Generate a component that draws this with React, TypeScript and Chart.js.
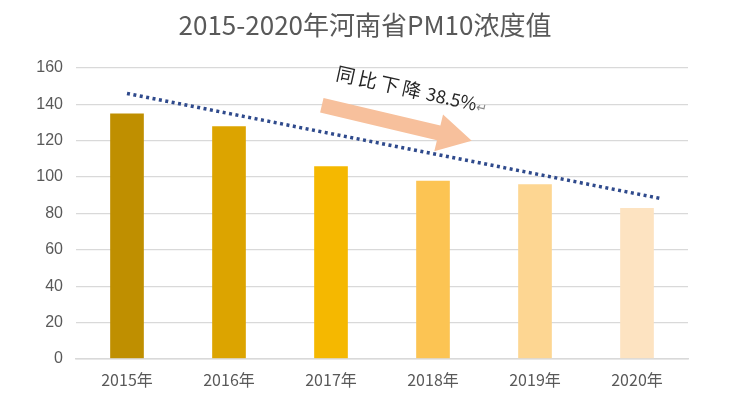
import React, { useEffect, useRef } from 'react';
import { Chart, registerables } from 'chart.js';

Chart.register(...registerables);

const titleText = '2015-2020年河南省PM10浓度值';
const categories = ['2015年', '2016年', '2017年', '2018年', '2019年', '2020年'];
const pm10 = [135, 128, 106, 98, 96, 83];
const barColors = ['#BF8F00', '#DCA400', '#F5B800', '#FCC453', '#FDD692', '#FDE3C1'];
const yTicks = [0, 20, 40, 60, 80, 100, 120, 140, 160];
// dotted trend line (index position, value)
const trendX = [0, 5.25];
const trendY = [146, 88];
// annotation arrow (index position, value)
const arrowFrom = [1.91, 139.5];
const arrowTo = [3.38, 120];
const noteWords = '同比下降';
const noteNumber = '38.5%';
const noteAnchor = [2.04, 153.5];

const annotationPlugin = {
  id: 'noteArrow',
  afterDatasetsDraw(chart: any) {
    const { ctx, scales } = chart;
    const xs = scales.x2;
    const ys = scales.y;
    const x1 = xs.getPixelForValue(arrowFrom[0]);
    const y1 = ys.getPixelForValue(arrowFrom[1]);
    const x2 = xs.getPixelForValue(arrowTo[0]);
    const y2 = ys.getPixelForValue(arrowTo[1]);
    const ang = Math.atan2(y2 - y1, x2 - x1);
    const len = Math.hypot(x2 - x1, y2 - y1);
    const shaftHalf = 7.5;
    const headHalf = 19;
    const headLen = 34;
    ctx.save();
    ctx.translate(x1, y1);
    ctx.rotate(ang);
    ctx.fillStyle = '#F7C09C';
    ctx.beginPath();
    ctx.moveTo(0, -shaftHalf);
    ctx.lineTo(len - headLen, -shaftHalf);
    ctx.lineTo(len - headLen, -headHalf);
    ctx.lineTo(len, 0);
    ctx.lineTo(len - headLen, headHalf);
    ctx.lineTo(len - headLen, shaftHalf);
    ctx.lineTo(0, shaftHalf);
    ctx.closePath();
    ctx.fill();
    ctx.restore();

    const tx = xs.getPixelForValue(noteAnchor[0]);
    const ty = ys.getPixelForValue(noteAnchor[1]);
    ctx.save();
    ctx.translate(tx, ty);
    ctx.rotate((12.5 * Math.PI) / 180);
    ctx.fillStyle = '#262626';
    ctx.textBaseline = 'alphabetic';
    ctx.textAlign = 'left';
    ctx.font = '19px "Noto Sans CJK SC", sans-serif';
    (ctx as any).letterSpacing = '3.5px';
    ctx.fillText(noteWords, 0, 0);
    const w1 = ctx.measureText(noteWords).width;
    (ctx as any).letterSpacing = '0px';
    ctx.font = '18px "Noto Sans CJK SC", sans-serif';
    ctx.fillText(noteNumber, w1 + 2, 0);
    const w2 = ctx.measureText(noteNumber).width;
    ctx.fillStyle = '#8a8a8a';
    ctx.font = '13px "DejaVu Sans", sans-serif';
    ctx.fillText('↵', w1 + 2 + w2, 0);
    ctx.restore();
  },
};

const titlePlugin = {
  id: 'customTitle',
  afterDraw(chart: any) {
    const { ctx } = chart;
    ctx.save();
    ctx.fillStyle = '#595959';
    ctx.font = '26px "Noto Sans CJK SC", sans-serif';
    ctx.textAlign = 'center';
    ctx.textBaseline = 'middle';
    ctx.fillText(titleText, 365, 25);
    ctx.restore();
  },
};

export default function App() {
  const ref = useRef<HTMLCanvasElement>(null);
  useEffect(() => {
    document.body.style.margin = '0';
    const chart = new Chart(ref.current as HTMLCanvasElement, {
      type: 'bar',
      data: {
        labels: categories,
        datasets: [
          {
            type: 'bar',
            data: pm10,
            backgroundColor: barColors,
            barPercentage: 0.33,
            categoryPercentage: 1,
            grouped: false,
            xAxisID: 'x',
            order: 2,
          } as any,
          {
            type: 'line',
            data: trendX.map((x, i) => ({ x, y: trendY[i] })),
            borderColor: '#2F4A8C',
            borderWidth: 3.5,
            borderDash: [3, 3.5],
            pointRadius: 0,
            fill: false,
            xAxisID: 'x2',
            order: 1,
          } as any,
        ],
      },
      options: {
        animation: false,
        responsive: false,
        layout: { padding: { left: 16, right: 61, top: 68, bottom: -3 } },
        plugins: {
          legend: { display: false },
          tooltip: { enabled: false },
          title: { display: false },
        },
        scales: {
          x: {
            type: 'category',
            offset: true,
            grid: { display: false, drawTicks: false },
            border: { color: '#D9D9D9', width: 1.5 },
            ticks: {
              color: '#595959',
              padding: 12,
              font: { size: 16, family: '"Noto Sans CJK SC", sans-serif' },
            },
          },
          x2: {
            type: 'linear',
            display: false,
            offset: false,
            min: -0.5,
            max: 5.5,
            grid: { offset: false },
          },
          y: {
            min: 0,
            max: 160,
            afterBuildTicks: (axis: any) => {
              axis.ticks = yTicks.map((v) => ({ value: v }));
            },
            afterFit: (axis: any) => {
              axis.width = 60;
            },
            grid: { color: '#D9D9D9', lineWidth: 1.2, drawTicks: false },
            border: { display: false },
            ticks: {
              color: '#595959',
              padding: 13,
              font: { size: 16, family: '"Liberation Sans", sans-serif' },
            },
          },
        },
      },
      plugins: [annotationPlugin, titlePlugin],
    } as any);
    return () => chart.destroy();
  }, []);
  return (
    <div style={{ width: 749, height: 399 }}>
      <canvas ref={ref} width={749} height={399} style={{ display: 'block' }} />
    </div>
  );
}
